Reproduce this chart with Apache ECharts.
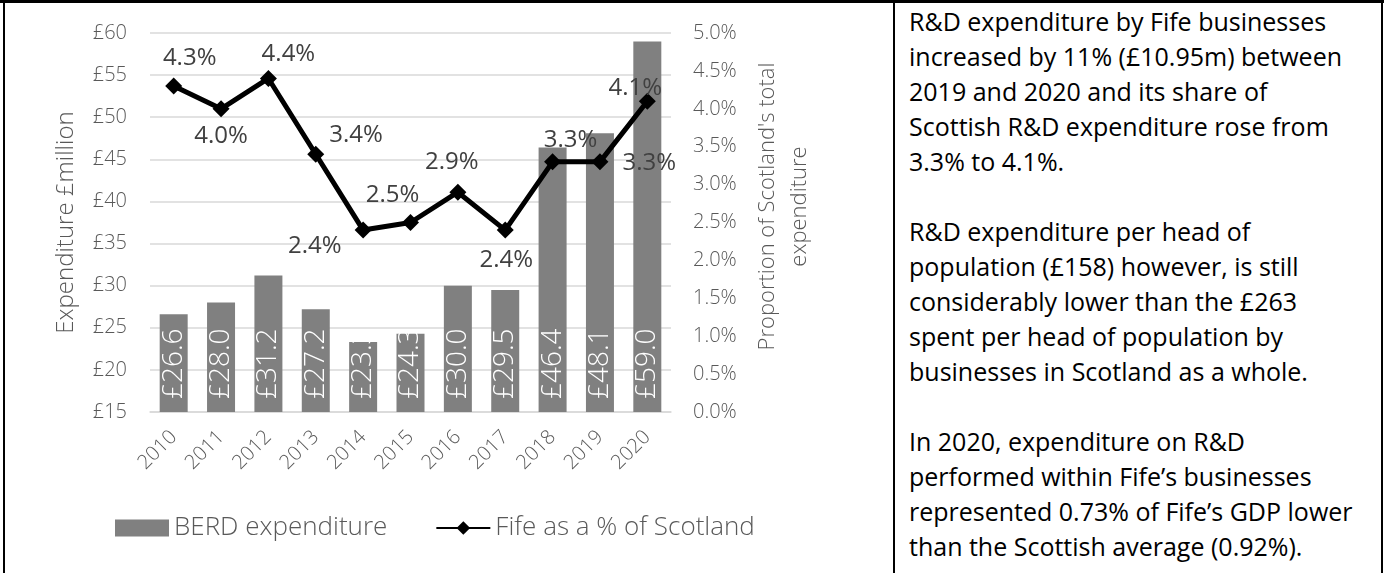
<!DOCTYPE html>
<html><head><meta charset="utf-8">
<script src="https://cdn.jsdelivr.net/npm/echarts@6/dist/echarts.min.js"></script>
<style>
html,body{margin:0;padding:0;background:#fff;}
#wrap{position:relative;width:1386px;height:573px;overflow:hidden;background:#fff;}
#chart{position:absolute;left:0;top:0;width:893px;height:573px;}
.b{position:absolute;background:#000;}
#txt{position:absolute;left:909px;top:4px;width:470px;font-family:"Open Sans",sans-serif;font-size:25px;line-height:35px;color:#000;white-space:nowrap;}
#txt p{margin:0 0 35px 0;}
</style></head>
<body><div id="wrap">
<div id="chart"></div>
<div id="txt">
<p>R&amp;D expenditure by Fife businesses<br>increased by 11% (£10.95m) between<br>2019 and 2020 and its share of<br>Scottish R&amp;D expenditure rose from<br>3.3% to 4.1%.</p>
<p>R&amp;D expenditure per head of<br>population (£158) however, is still<br>considerably lower than the £263<br>spent per head of population by<br>businesses in Scotland as a whole.</p>
<p>In 2020, expenditure on R&amp;D<br>performed within Fife’s businesses<br>represented 0.73% of Fife’s GDP lower<br>than the Scottish average (0.92%).</p>
</div>
<div class="b" style="left:0;top:0;width:1384px;height:3px"></div>
<div class="b" style="left:3px;top:0;width:2px;height:573px"></div>
<div class="b" style="left:893px;top:0;width:2px;height:573px"></div>
<div class="b" style="left:1381px;top:0;width:2px;height:573px"></div>
</div>
<script>
const years = ['2010','2011','2012','2013','2014','2015','2016','2017','2018','2019','2020'];
const berdExpenditure = [26.6, 28.0, 31.2, 27.2, 23.3, 24.3, 30.0, 29.5, 46.4, 48.1, 59.0];
const fifeShare = [4.3, 4.0, 4.4, 3.4, 2.4, 2.5, 2.9, 2.4, 3.3, 3.3, 4.1];
const seriesNames = ['BERD expenditure', 'Fife as a % of Scotland'];
const leftAxisName = 'Expenditure £million';
const rightAxisName = "Proportion of Scotland's total\nexpenditure";

// label placement styling for the line's data labels (not data)
const shareLabelPlacement = [
  ['top', [16, 0]], ['bottom', [0, 0]], ['top', [20, 3]], ['right', [-2, -19]],
  ['left', [-6, 16]], ['top', [-18, 0]], ['top', [-6, -3]], ['bottom', [1, 3]],
  ['top', [18, 6]], ['right', [7, 1]], ['top', [-12, 14]]
];

const FONT = '"Open Sans", sans-serif';
const GREY = '#595959';

const chart = echarts.init(document.getElementById('chart'), null, {renderer: 'canvas'});
chart.setOption({
  animation: false,
  textStyle: {fontFamily: FONT},
  grid: {left: 150, right: 222, top: 33, bottom: 161},
  legend: {
    left: 110, top: 510, itemWidth: 54, itemHeight: 17, itemGap: 48,
    textStyle: {fontFamily: FONT, fontSize: 26, fontWeight: 300, color: GREY},
    data: [{name: seriesNames[0], icon: 'rect'}, {name: seriesNames[1]}]
  },
  xAxis: {
    type: 'category', data: years,
    axisLine: {lineStyle: {color: '#d9d9d9', width: 1.5}},
    axisTick: {show: false},
    axisLabel: {rotate: 45, fontSize: 20, fontWeight: 300, color: GREY, margin: 22, padding: [30, 0, 0, 0], fontFamily: FONT}
  },
  yAxis: [{
    type: 'value', min: 15, max: 60, interval: 5,
    name: leftAxisName, nameLocation: 'middle', nameRotate: 90, nameGap: 72,
    nameTextStyle: {fontSize: 24, fontWeight: 300, color: GREY, fontFamily: FONT},
    axisLine: {show: false}, axisTick: {show: false},
    axisLabel: {formatter: v => '£' + v, fontSize: 20, fontWeight: 300, color: GREY, margin: 23, fontFamily: FONT},
    splitLine: {lineStyle: {color: '#d9d9d9', width: 1.5}}
  }, {
    type: 'value', min: 0, max: 5, interval: 0.5, position: 'right',
    name: rightAxisName, nameLocation: 'middle', nameRotate: 90, nameGap: 81,
    nameTextStyle: {fontSize: 22, fontWeight: 300, color: GREY, fontFamily: FONT, align: 'center', lineHeight: 32, padding: [0, 0, 0, 32]},
    axisLine: {show: false}, axisTick: {show: false},
    axisLabel: {formatter: v => v.toFixed(1) + '%', fontSize: 20, fontWeight: 300, color: GREY, margin: 22, fontFamily: FONT},
    splitLine: {show: false}
  }],
  series: [{
    name: seriesNames[0], type: 'bar', yAxisIndex: 0, data: berdExpenditure,
    barWidth: 28,
    itemStyle: {color: '#808080'},
    label: {
      show: true, position: 'insideBottom', rotate: 90, align: 'left', verticalAlign: 'middle',
      distance: 13, color: '#fff', fontSize: 28, fontWeight: 300, fontFamily: FONT,
      formatter: p => '£' + p.value.toFixed(1)
    },
    z: 2
  }, {
    name: seriesNames[1], type: 'line', yAxisIndex: 1,
    data: fifeShare.map((v, i) => ({
      value: v,
      label: {position: shareLabelPlacement[i][0], offset: shareLabelPlacement[i][1]}
    })),
    symbol: 'diamond', symbolSize: 17,
    lineStyle: {color: '#000', width: 5},
    itemStyle: {color: '#000'},
    label: {
      show: true, distance: 7, fontSize: 24, color: '#404040', fontFamily: FONT, lineHeight: 24,
      formatter: p => p.value.toFixed(1) + '%'
    },
    z: 5
  }]
});
</script>
</body></html>
